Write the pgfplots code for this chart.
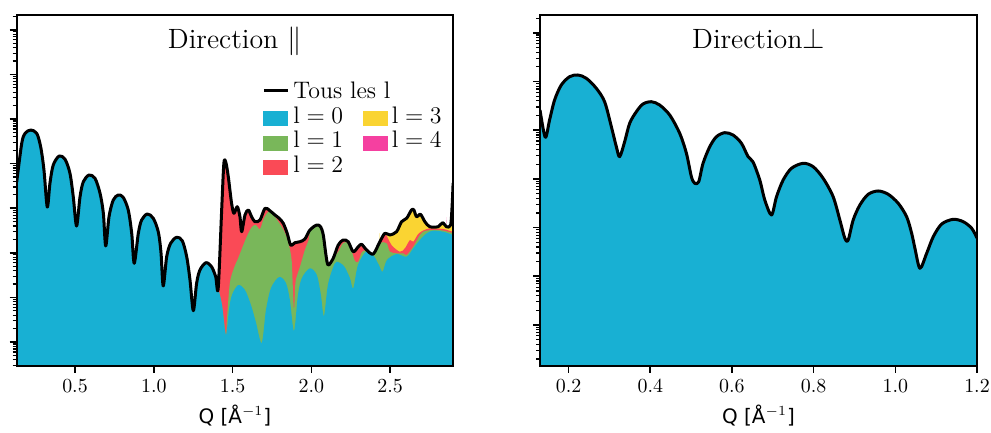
\documentclass[border=0pt]{standalone}
\usepackage{pgfplots}
\pgfplotsset{compat=1.18}
\usepackage{fontspec}
\newfontfamily\dejavu{DejaVu Sans}
\definecolor{cA}{RGB}{24,176,211}
\definecolor{cB}{RGB}{121,183,90}
\definecolor{cC}{RGB}{250,74,86}
\definecolor{cD}{RGB}{250,212,50}
\definecolor{cE}{RGB}{245,64,160}
\pgfplotsset{
  panel/.style={
    scale only axis, height=175.5bp,
    axis on top,
    tick align=outside, tick pos=left,
    major tick length=3.5bp, minor tick length=2bp,
    major tick style={black, line width=0.8bp},
    minor tick style={black, line width=0.6bp},
    axis line style={line width=0.8bp},
    ytick={-1,0,1,2,3,4,5,6,7,8},
    yticklabels={},
    minor ytick={-0.699,-0.523,-0.398,-0.301,-0.222,-0.155,-0.097,-0.046,
      0.301,0.477,0.602,0.699,0.778,0.845,0.903,0.954,
      1.301,1.477,1.602,1.699,1.778,1.845,1.903,1.954,
      2.301,2.477,2.602,2.699,2.778,2.845,2.903,2.954,
      3.301,3.477,3.602,3.699,3.778,3.845,3.903,3.954,
      4.301,4.477,4.602,4.699,4.778,4.845,4.903,4.954,
      5.301,5.477,5.602,5.699,5.778,5.845,5.903,5.954,
      6.301,6.477,6.602,6.699,6.778,6.845,6.903,6.954,
      7.301,7.477,7.602,7.699,7.778,7.845,7.903,7.954},
    ticklabel style={font=\fontsize{10}{12}\selectfont},
    x tick label style={/pgf/number format/.cd, fixed, fixed zerofill, precision=1, /tikz/.cd},
    xlabel={{\dejavu Q [Å}$^{-1}${\dejavu ]}},
    xlabel style={at={(axis description cs:0.5,0)}, anchor=base, yshift=-28.5bp, font=\fontsize{10}{12}\selectfont},
    every axis title shift=0pt,
    title style={at={(axis description cs:0.5,1)}, anchor=base, yshift=-17bp, font=\fontsize{14}{17}\selectfont},
  },
  patchimg/.style={legend image code/.code={\fill[#1] (0bp,-3.5bp) rectangle (12bp,3.5bp);}},
  area/.style={forget plot, fill=#1, draw=none, smooth, tension=0.5},
}
\begin{document}
\begin{tikzpicture}
\useasboundingbox (-8.35bp,-33.5bp) rectangle (487.15bp,183bp);
\begin{axis}[panel, at={(0bp,0bp)}, anchor=south west, width=218.2bp,
  xmin=0.13, xmax=2.9, ymin=-0.538, ymax=7.332,
  xtick={0.5,1.0,1.5,2.0,2.5},
  title={Direction $\|$},
  legend columns=2,
  legend cell align=left,
  legend style={at={(axis description cs:0.562,0.811)}, anchor=north west, draw=none, fill=none, inner sep=0pt,
    font=\fontsize{12}{14}\selectfont,
    nodes={inner xsep=2bp, inner ysep=0pt, text height=8.5bp, text depth=3.75bp},
    /tikz/every even column/.append style={column sep=8bp}},
]
% l<=4 (total, pink)
\addplot[area=cE] coordinates {
(2.858,-1)(2.858,2.585)(2.858,2.585)(2.884,2.623)(2.894,3.072)(2.900,3.565)(2.900,3.565)(2.900,-1)};
% l<=3 (yellow)
\addplot[area=cD] coordinates {
(2.435,-1)(2.435,2.249)(2.435,2.249)(2.467,2.437)(2.499,2.399)(2.541,2.473)(2.573,2.697)(2.605,2.774)(2.636,2.960)(2.651,2.960)(2.668,2.810)(2.693,2.863)(2.721,2.697)(2.752,2.585)(2.805,2.585)(2.833,2.675)(2.858,2.585)(2.884,2.623)(2.900,2.55)(2.900,2.55)(2.900,-1)};
% l<=2 (red)
\addplot[area=cC] coordinates {
(1.409,-1)(1.409,1.204)(1.409,1.204)
(1.431,2.960)(1.445,4.007)(1.458,4.020)(1.473,3.706)(1.494,3.110)(1.509,2.886)(1.530,3.034)(1.547,2.810)(1.558,2.473)(1.579,2.848)(1.600,2.960)(1.621,2.810)(1.642,2.697)(1.674,2.735)(1.706,2.998)(1.737,2.944)(1.769,2.848)(1.796,2.774)(1.822,2.661)(1.847,2.437)(1.869,2.175)(1.896,2.227)(1.928,2.249)(1.959,2.309)(1.991,2.511)(2.034,2.623)(2.059,2.585)(2.076,2.399)(2.093,1.951)(2.107,1.726)(2.139,1.877)(2.171,2.175)(2.202,2.287)(2.234,2.249)(2.266,2.025)(2.298,2.137)(2.319,2.191)(2.351,2.063)(2.393,1.973)(2.435,2.249)
(2.467,2.437)(2.509,2.175)(2.562,2.025)(2.594,2.101)(2.626,2.287)(2.647,2.249)(2.678,2.42)(2.710,2.50)(2.752,2.55)(2.795,2.54)(2.837,2.535)(2.900,2.47)(2.900,2.47)(2.900,-1)};
% l<=1 (green)
\addplot[area=cB] coordinates {
(1.409,-1)(1.409,1.204)(1.409,1.204)(1.433,0.830)(1.458,0.157)(1.464,0.493)(1.483,1.323)(1.509,1.659)(1.536,1.883)(1.589,2.354)(1.623,2.579)(1.648,2.623)(1.674,2.534)(1.699,2.780)(1.727,2.922)(1.744,2.915)(1.769,2.810)(1.812,2.585)(1.839,2.399)(1.858,2.175)(1.875,1.839)(1.883,1.2)(1.890,0.72)(1.897,1.2)(1.902,1.4)(1.928,1.688)(1.959,2.063)(1.985,2.309)(1.991,2.511)(2.034,2.623)(2.059,2.585)(2.076,2.399)(2.093,1.951)(2.107,1.726)(2.139,1.877)(2.171,2.025)(2.202,2.220)(2.234,2.220)(2.258,2.018)(2.277,1.816)(2.298,1.800)(2.321,2.018)(2.351,2.052)(2.393,1.973)(2.435,2.220)(2.478,2.213)(2.499,2.025)(2.541,1.989)(2.583,1.989)(2.605,1.951)(2.647,2.137)(2.689,2.399)(2.721,2.49)(2.773,2.51)(2.837,2.50)(2.900,2.44)(2.900,2.44)(2.900,-1)};
% l=0 (cyan)
\addplot[area=cA] coordinates {
(0.130,-1)(0.130,3.588)(0.130,3.588)(0.162,4.455)(0.183,4.679)(0.219,4.753)(0.257,4.679)(0.282,4.379)(0.303,3.857)(0.324,3.027)(0.341,3.558)(0.362,3.969)(0.400,4.171)(0.437,4.096)(0.468,3.783)(0.489,3.258)(0.510,2.601)(0.532,3.258)(0.553,3.594)(0.589,3.744)(0.627,3.670)(0.659,3.334)(0.680,2.886)(0.695,2.153)(0.716,2.810)(0.743,3.184)(0.775,3.296)(0.806,3.244)(0.838,2.960)(0.860,2.437)(0.876,1.765)(0.902,2.437)(0.923,2.735)(0.959,2.870)(0.997,2.774)(1.029,2.466)(1.046,1.996)(1.060,1.256)(1.082,1.913)(1.107,2.213)(1.145,2.348)(1.181,2.271)(1.209,1.913)(1.230,1.390)(1.251,0.702)(1.272,1.316)(1.293,1.614)(1.331,1.778)(1.367,1.688)(1.393,1.464)(1.409,1.204)
(1.433,0.830)(1.458,0.157)(1.477,0.717)(1.496,1.054)(1.536,1.278)(1.579,1.166)(1.617,0.830)(1.648,0.448)(1.685,-0.022)(1.712,0.717)(1.744,1.211)(1.796,1.457)(1.839,1.323)(1.864,0.942)(1.890,0.247)(1.915,1.054)(1.940,1.435)(1.991,1.652)(2.035,1.502)(2.061,1.054)(2.080,0.583)(2.105,1.278)(2.137,1.659)(2.160,1.800)(2.207,1.704)(2.245,1.435)(2.266,1.204)(2.296,1.726)(2.351,2.040)(2.397,1.928)(2.429,1.726)(2.452,1.576)(2.480,1.839)(2.541,1.973)(2.605,1.913)(2.647,2.101)(2.689,2.287)(2.732,2.437)(2.773,2.496)(2.837,2.473)(2.900,2.399)(2.900,2.399)(2.900,-1)};
% total (black line)
\addplot[forget plot, black, line width=1.5bp, line join=round, smooth, tension=0.5] coordinates {
(0.130,3.588)(0.162,4.455)(0.183,4.679)(0.219,4.753)(0.257,4.679)(0.282,4.379)(0.303,3.857)(0.324,3.027)(0.341,3.558)(0.362,3.969)(0.400,4.171)(0.437,4.096)(0.468,3.783)(0.489,3.258)(0.510,2.601)(0.532,3.258)(0.553,3.594)(0.589,3.744)(0.627,3.670)(0.659,3.334)(0.680,2.886)(0.695,2.153)(0.716,2.810)(0.743,3.184)(0.775,3.296)(0.806,3.244)(0.838,2.960)(0.860,2.437)(0.876,1.765)(0.902,2.437)(0.923,2.735)(0.959,2.870)(0.997,2.774)(1.029,2.466)(1.046,1.996)(1.060,1.256)(1.082,1.913)(1.107,2.213)(1.145,2.348)(1.181,2.271)(1.209,1.913)(1.230,1.390)(1.251,0.702)(1.272,1.316)(1.293,1.614)(1.331,1.778)(1.367,1.688)(1.393,1.464)(1.409,1.204)
(1.431,2.960)(1.445,4.007)(1.458,4.020)(1.473,3.706)(1.494,3.110)(1.509,2.886)(1.530,3.034)(1.547,2.810)(1.558,2.473)(1.579,2.848)(1.600,2.960)(1.621,2.810)(1.642,2.697)(1.674,2.735)(1.706,2.998)(1.737,2.944)(1.769,2.848)(1.796,2.774)(1.822,2.661)(1.847,2.437)(1.869,2.175)(1.896,2.227)(1.928,2.249)(1.959,2.309)(1.991,2.511)(2.034,2.623)(2.059,2.585)(2.076,2.399)(2.093,1.951)(2.107,1.726)(2.139,1.877)(2.171,2.175)(2.202,2.287)(2.234,2.249)(2.266,2.025)(2.298,2.137)(2.319,2.191)(2.351,2.063)(2.393,1.973)(2.435,2.249)
(2.467,2.437)(2.499,2.399)(2.541,2.473)(2.573,2.697)(2.605,2.774)(2.636,2.960)(2.651,2.960)(2.668,2.810)(2.693,2.863)(2.721,2.697)(2.752,2.585)(2.805,2.585)(2.833,2.675)(2.858,2.585)(2.884,2.623)(2.894,3.072)(2.900,3.565)};
\addlegendimage{legend image code/.code={\path[draw=none,fill=none] (0bp,-3.5bp) rectangle (12bp,3.5bp); \draw[black, line width=1.5bp] (0bp,1.6bp) -- (12bp,1.6bp);}}
\addlegendentry{\rlap{Tous les l}}
\addlegendimage{empty legend}
\addlegendentry{}
\addlegendimage{patchimg=cA}
\addlegendentry{$\mathrm{l}=0$}
\addlegendimage{patchimg=cD}
\addlegendentry{$\mathrm{l}=3$}
\addlegendimage{patchimg=cB}
\addlegendentry{$\mathrm{l}=1$}
\addlegendimage{patchimg=cE}
\addlegendentry{$\mathrm{l}=4$}
\addlegendimage{patchimg=cC}
\addlegendentry{$\mathrm{l}=2$}
\end{axis}
\begin{axis}[panel, at={(261.65bp,0bp)}, anchor=south west, width=218.5bp,
  xmin=0.13, xmax=1.2, ymin=-0.842, ymax=6.366,
  xtick={0.2,0.4,0.6,0.8,1.0,1.2},
  title={Direction$\perp$},
]
\addplot[area=cA] coordinates {
(0.13,-1)(0.13,4.415)(0.13,4.415)(0.1429,3.854)(0.1534,4.209)(0.1657,4.620)(0.1821,4.928)(0.2025,5.099)(0.2228,5.134)(0.2434,5.066)(0.2679,4.860)(0.2882,4.585)(0.3047,4.072)(0.3169,3.661)(0.3250,3.456)(0.3373,3.764)(0.3495,4.142)(0.3659,4.380)(0.3821,4.538)(0.4027,4.585)(0.4230,4.517)(0.4476,4.312)(0.4721,3.936)(0.4885,3.526)(0.5007,3.045)(0.5088,2.910)(0.5186,2.943)(0.5292,3.320)(0.5456,3.661)(0.5620,3.867)(0.5824,3.949)(0.6027,3.901)(0.6233,3.731)(0.6395,3.456)(0.6517,3.347)(0.6681,2.977)(0.6804,2.567)(0.6968,2.259)(0.7091,2.634)(0.7253,2.977)(0.7458,3.218)(0.7743,3.320)(0.7988,3.251)(0.8233,3.012)(0.8478,2.634)(0.8642,2.156)(0.8765,1.780)(0.8846,1.745)(0.8968,2.156)(0.9132,2.464)(0.9336,2.684)(0.9581,2.752)(0.9826,2.684)(1.0071,2.499)(1.0277,2.224)(1.0400,1.883)(1.0480,1.575)(1.0603,1.164)(1.0767,1.472)(1.0929,1.813)(1.1135,2.074)(1.1419,2.170)(1.1664,2.121)(1.1870,1.986)(1.2,1.786)(1.2,1.786)(1.2,-1)};
\addplot[forget plot, black, line width=1.5bp, line join=round, smooth, tension=0.5] coordinates {
(0.13,4.415)(0.1429,3.854)(0.1534,4.209)(0.1657,4.620)(0.1821,4.928)(0.2025,5.099)(0.2228,5.134)(0.2434,5.066)(0.2679,4.860)(0.2882,4.585)(0.3047,4.072)(0.3169,3.661)(0.3250,3.456)(0.3373,3.764)(0.3495,4.142)(0.3659,4.380)(0.3821,4.538)(0.4027,4.585)(0.4230,4.517)(0.4476,4.312)(0.4721,3.936)(0.4885,3.526)(0.5007,3.045)(0.5088,2.910)(0.5186,2.943)(0.5292,3.320)(0.5456,3.661)(0.5620,3.867)(0.5824,3.949)(0.6027,3.901)(0.6233,3.731)(0.6395,3.456)(0.6517,3.347)(0.6681,2.977)(0.6804,2.567)(0.6968,2.259)(0.7091,2.634)(0.7253,2.977)(0.7458,3.218)(0.7743,3.320)(0.7988,3.251)(0.8233,3.012)(0.8478,2.634)(0.8642,2.156)(0.8765,1.780)(0.8846,1.745)(0.8968,2.156)(0.9132,2.464)(0.9336,2.684)(0.9581,2.752)(0.9826,2.684)(1.0071,2.499)(1.0277,2.224)(1.0400,1.883)(1.0480,1.575)(1.0603,1.164)(1.0767,1.472)(1.0929,1.813)(1.1135,2.074)(1.1419,2.170)(1.1664,2.121)(1.1870,1.986)(1.2,1.786)};
\end{axis}
\end{tikzpicture}
\end{document}
